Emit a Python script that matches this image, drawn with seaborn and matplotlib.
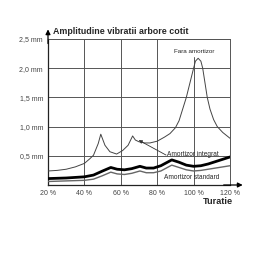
import matplotlib
matplotlib.use("Agg")
import matplotlib.pyplot as plt
import seaborn as sns
import pandas as pd

# Data: turatie in %, amplitude in mm
fara_x = [20, 25, 30, 35, 40, 43, 45, 47.6, 49, 51.3, 54, 57.7, 61, 64, 66.5,
          68, 70, 73, 76, 80, 84, 87, 90, 92, 94, 96, 98, 100, 101, 102.5,
          104, 105, 106, 107.5, 109, 111, 113, 116, 120]
fara_y = [0.24, 0.25, 0.27, 0.31, 0.37, 0.45, 0.51, 0.71, 0.87, 0.68, 0.57, 0.53, 0.59, 0.68, 0.84,
          0.77, 0.74, 0.72, 0.72, 0.75, 0.82, 0.88, 0.98, 1.1, 1.3, 1.5, 1.75, 2.0, 2.12, 2.17,
          2.12, 2.0, 1.8, 1.5, 1.3, 1.12, 1.0, 0.9, 0.8]

amort_x = [20, 30, 40, 45, 50, 54.5, 58, 62, 66, 70.5, 74, 78, 82, 85, 88, 92, 96, 100,
           104, 108, 112, 116, 120]
integrat_y = [0.11, 0.12, 0.14, 0.17, 0.24, 0.30, 0.27, 0.26, 0.28, 0.32, 0.29, 0.29, 0.33,
              0.38, 0.43, 0.39, 0.34, 0.32, 0.33, 0.36, 0.40, 0.44, 0.48]
standard_y = [0.06, 0.07, 0.08, 0.10, 0.16, 0.22, 0.19, 0.18, 0.20, 0.24, 0.21, 0.21, 0.24,
              0.29, 0.34, 0.30, 0.26, 0.24, 0.25, 0.27, 0.29, 0.31, 0.33]

x_ticks = [20, 40, 60, 80, 100, 120]
x_labels = ["20 %", "40 %", "60 %", "80 %", "100 %", "120 %"]
y_ticks = [0.5, 1.0, 1.5, 2.0, 2.5]
y_labels = ["0,5 mm", "1,0 mm", "1,5 mm", "2,0 mm", "2,5 mm"]

fara = pd.DataFrame({"Turatie": fara_x, "Amplitudine": fara_y})
integrat = pd.DataFrame({"Turatie": amort_x, "Amplitudine": integrat_y})
standard = pd.DataFrame({"Turatie": amort_x, "Amplitudine": standard_y})

sns.set_style("white")
plt.rcParams["font.family"] = ["Liberation Sans", "DejaVu Sans"]

fig = plt.figure(figsize=(2.63, 2.70), dpi=100)
ax = fig.add_axes([48 / 263, 1 - 185 / 270, 182 / 263, 146 / 270])

# grid
grid_c = "#555555"
for yv in y_ticks:
    ax.axhline(yv, color=grid_c, lw=0.7, zorder=1)
for xv in x_ticks[1:-1]:
    top = 2.19 / 2.5 if xv == 100 else 1
    ax.axvline(xv, ymax=top, color=grid_c, lw=0.7, zorder=1)

sns.lineplot(data=fara, x="Turatie", y="Amplitudine", ax=ax, color="#444444", lw=0.7, zorder=3)
sns.lineplot(data=standard, x="Turatie", y="Amplitudine", ax=ax, color="#666666", lw=1.0, zorder=3)
sns.lineplot(data=integrat, x="Turatie", y="Amplitudine", ax=ax, color="black", lw=2.0, zorder=4)

ax.set_xlim(20, 120)
ax.set_ylim(0, 2.5)
ax.set_xticks(x_ticks)
ax.set_xticklabels(x_labels, fontsize=5, color="#444444")
ax.set_yticks(y_ticks)
ax.set_yticklabels(y_labels, fontsize=5, color="#444444")
ax.tick_params(axis="x", length=0, pad=3.8)
ax.tick_params(axis="y", length=0, pad=3.6)
ax.set_xlabel("")
ax.set_ylabel("")

for s in ["top", "right"]:
    ax.spines[s].set_color(grid_c)
    ax.spines[s].set_linewidth(0.7)
for s in ["left", "bottom"]:
    ax.spines[s].set_color("#222222")
    ax.spines[s].set_linewidth(0.9)

# axis arrows
ax.annotate("", xy=(0, 1.085), xytext=(0, 0.95), xycoords="axes fraction",
            arrowprops=dict(arrowstyle="-|>", color="black", lw=0.9, mutation_scale=7))
ax.annotate("", xy=(1.085, 0), xytext=(0.95, 0), xycoords="axes fraction",
            arrowprops=dict(arrowstyle="-|>", color="black", lw=0.9, mutation_scale=7))

# labels
ax.text(100.5, 2.29, "Fara amortizor", fontsize=4.5, ha="center", va="center")
ax.text(99.7, 0.53, "Amortizor integrat", fontsize=4.7, ha="center", va="center")
ax.text(99, 0.125, "Amortizor standard", fontsize=4.7, ha="center", va="center")
ax.annotate("", xy=(68.5, 0.79), xytext=(86.2, 0.49),
            arrowprops=dict(arrowstyle="-|>", color="#333333", lw=0.6, mutation_scale=5))

fig.text(53 / 263, 1 - 31 / 270, "Amplitudine vibratii arbore cotit", fontsize=6.4,
         fontweight="bold", ha="left", va="center")
fig.text(218 / 263, 1 - 201 / 270, "Turatie", fontsize=6.6, fontweight="bold",
         ha="center", va="center")

fig.savefig("out.png", dpi=100, facecolor="white")
